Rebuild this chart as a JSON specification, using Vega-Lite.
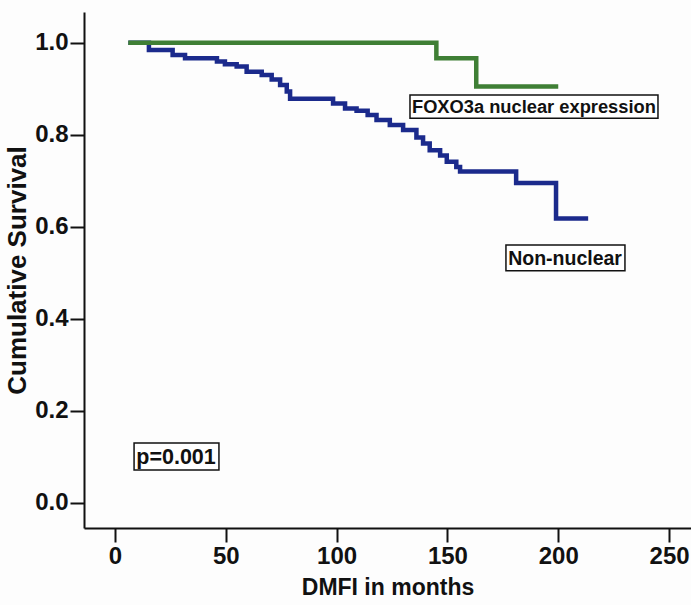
{
  "$schema": "https://vega.github.io/schema/vega-lite/v6.json",
  "width": 607,
  "height": 516,
  "autosize": "none",
  "padding": {"left": 84, "top": 12, "right": 0, "bottom": 77},
  "background": "#fdfdfd",
  "config": {
    "view": {"stroke": null},
    "font": "Liberation Sans",
    "axis": {"grid": false, "domainColor": "#111111", "tickColor": "#111111", "labelColor": "#111111", "titleColor": "#111111", "labelFont": "Liberation Sans", "titleFont": "Liberation Sans", "labelFontWeight": "bold", "titleFontWeight": "bold", "domainWidth": 2, "tickWidth": 2}
  },
  "datasets": {
    "curves": [
      {"group": "Non-nuclear", "t": 6, "s": 1.0},
      {"group": "Non-nuclear", "t": 15.3, "s": 0.984},
      {"group": "Non-nuclear", "t": 26, "s": 0.973},
      {"group": "Non-nuclear", "t": 31.6, "s": 0.966},
      {"group": "Non-nuclear", "t": 46, "s": 0.959},
      {"group": "Non-nuclear", "t": 49.6, "s": 0.953},
      {"group": "Non-nuclear", "t": 54.9, "s": 0.948},
      {"group": "Non-nuclear", "t": 59.4, "s": 0.937},
      {"group": "Non-nuclear", "t": 66.2, "s": 0.930},
      {"group": "Non-nuclear", "t": 70.7, "s": 0.920},
      {"group": "Non-nuclear", "t": 74.5, "s": 0.908},
      {"group": "Non-nuclear", "t": 77.5, "s": 0.894},
      {"group": "Non-nuclear", "t": 79, "s": 0.878},
      {"group": "Non-nuclear", "t": 98.4, "s": 0.868},
      {"group": "Non-nuclear", "t": 103.8, "s": 0.857},
      {"group": "Non-nuclear", "t": 109, "s": 0.852},
      {"group": "Non-nuclear", "t": 114, "s": 0.843},
      {"group": "Non-nuclear", "t": 118, "s": 0.832},
      {"group": "Non-nuclear", "t": 124, "s": 0.821},
      {"group": "Non-nuclear", "t": 130, "s": 0.810},
      {"group": "Non-nuclear", "t": 136, "s": 0.794},
      {"group": "Non-nuclear", "t": 139, "s": 0.781},
      {"group": "Non-nuclear", "t": 142, "s": 0.766},
      {"group": "Non-nuclear", "t": 146.7, "s": 0.755},
      {"group": "Non-nuclear", "t": 149.7, "s": 0.741},
      {"group": "Non-nuclear", "t": 154, "s": 0.730},
      {"group": "Non-nuclear", "t": 155.7, "s": 0.720},
      {"group": "Non-nuclear", "t": 181, "s": 0.695},
      {"group": "Non-nuclear", "t": 199, "s": 0.618},
      {"group": "Non-nuclear", "t": 213.5, "s": 0.618},
      {"group": "FOXO3a nuclear expression", "t": 6, "s": 1.0},
      {"group": "FOXO3a nuclear expression", "t": 145, "s": 0.966},
      {"group": "FOXO3a nuclear expression", "t": 163, "s": 0.905},
      {"group": "FOXO3a nuclear expression", "t": 200, "s": 0.905}
    ],
    "labels": [
      {"label": "FOXO3a nuclear expression", "x1": 133.1, "x2": 245.0, "y1": 0.886, "y2": 0.836, "tx": 134.0, "ty": 0.861, "size": 18.3},
      {"label": "Non-nuclear", "x1": 176.4, "x2": 230.1, "y1": 0.560, "y2": 0.504, "tx": 177.4, "ty": 0.532, "size": 19.5},
      {"label": "p=0.001", "x1": 8.6, "x2": 46.9, "y1": 0.130, "y2": 0.071, "tx": 9.6, "ty": 0.1004, "size": 21.5}
    ]
  },
  "layer": [
    {
      "data": {"name": "curves"},
      "transform": [{"filter": "datum.group === 'Non-nuclear'"}],
      "mark": {"type": "line", "interpolate": "step-after", "strokeWidth": 4.5, "color": "#1b2a8c"},
      "encoding": {
        "x": {"field": "t", "type": "quantitative", "scale": {"domain": [-13.99, 259.9], "nice": false, "zero": false},
              "axis": {"values": [0, 50, 100, 150, 200, 250], "tickSize": 14, "labelFontSize": 24, "labelPadding": 2, "title": "DMFI in months", "titleFontSize": 23, "titlePadding": 8}},
        "y": {"field": "s", "type": "quantitative", "scale": {"domain": [-0.055, 1.0667], "nice": false, "zero": false},
              "axis": {"values": [0, 0.2, 0.4, 0.6, 0.8, 1.0], "format": ".1f", "tickSize": 14, "labelFontSize": 24, "labelPadding": 2, "title": "Cumulative Survival", "titleFontSize": 26, "titlePadding": 4}}
      }
    },
    {
      "data": {"name": "curves"},
      "transform": [{"filter": "datum.group !== 'Non-nuclear'"}],
      "mark": {"type": "line", "interpolate": "step-after", "strokeWidth": 4.5, "color": "#3f7f35"},
      "encoding": {
        "x": {"field": "t", "type": "quantitative"},
        "y": {"field": "s", "type": "quantitative"}
      }
    },
    {
      "data": {"name": "labels"},
      "mark": {"type": "rect", "fill": "white", "stroke": "#111111", "strokeWidth": 1.5},
      "encoding": {
        "x": {"field": "x1", "type": "quantitative"},
        "x2": {"field": "x2"},
        "y": {"field": "y1", "type": "quantitative"},
        "y2": {"field": "y2"}
      }
    },
    {
      "data": {"name": "labels"},
      "mark": {"type": "text", "align": "left", "baseline": "middle", "font": "Liberation Sans", "fontWeight": "bold", "color": "#111111", "dy": 1},
      "encoding": {
        "x": {"field": "tx", "type": "quantitative"},
        "y": {"field": "ty", "type": "quantitative"},
        "text": {"field": "label"},
        "size": {"field": "size", "type": "quantitative", "scale": null}
      }
    }
  ]
}
